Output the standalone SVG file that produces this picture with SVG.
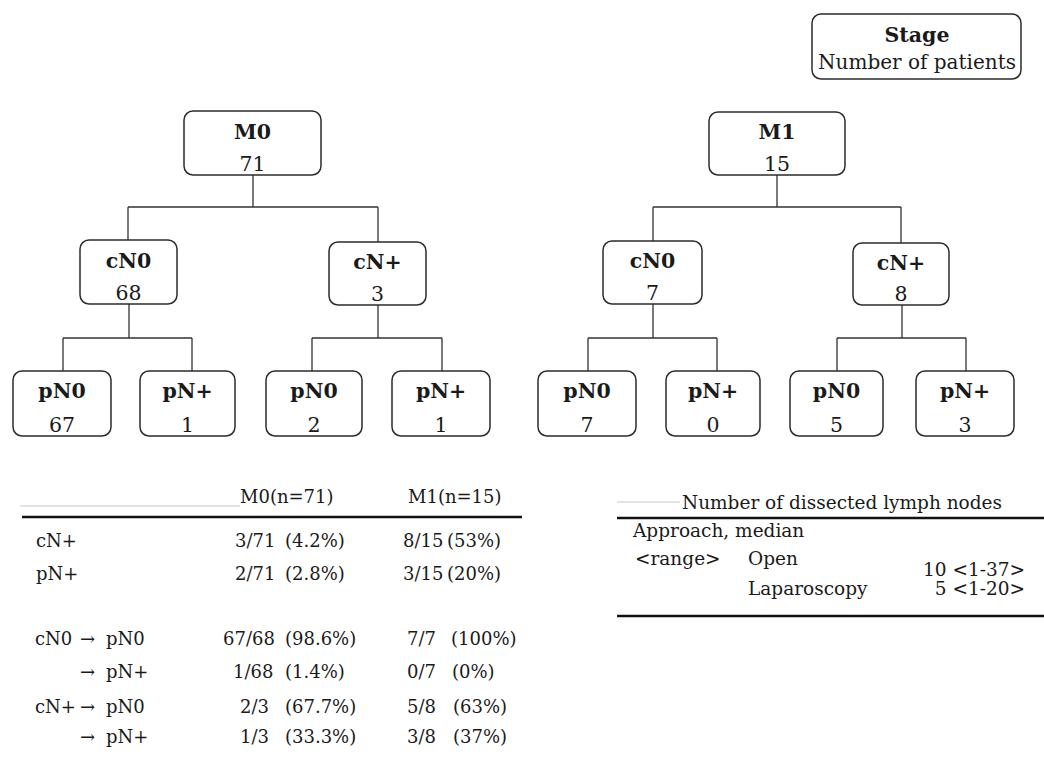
<svg xmlns="http://www.w3.org/2000/svg" width="1044" height="760" viewBox="0 0 1044 760">
<style>
text{font-family:"DejaVu Serif","Liberation Serif",serif;fill:#1a1a1a}
.box{fill:#fff;stroke:#2b2b2b;stroke-width:1.5}
.lbl{font-size:20.5px;font-weight:bold;text-anchor:middle}
.num{font-size:20.5px;text-anchor:middle}
.con{fill:none;stroke:#333;stroke-width:1.3}
.t{font-size:18px}
.r{font-size:18.5px}
.thick{stroke:#111;stroke-width:2.6}
.thin{stroke:#c8c8c8;stroke-width:1}
</style>
<rect width="1044" height="760" fill="#fff"/>

<g id="legend">
<rect class="box" x="812" y="14" width="209" height="65" rx="9"/>
<text class="lbl" x="917" y="42">Stage</text>
<text class="num" x="917" y="69" style="font-size:20px">Number of patients</text>
</g>

<g id="connectors">
<path class="con" d="M253 175V207M128 207H378M128 207V240M378 207V242"/>
<path class="con" d="M129 304V338M63 338H192M63 338V371M192 338V371"/>
<path class="con" d="M378 305V338M312 338H442M312 338V371M442 338V371"/>
<path class="con" d="M777 175V207M653 207H901M653 207V241M901 207V243"/>
<path class="con" d="M653 304V338M588 338H717M588 338V371M717 338V371"/>
<path class="con" d="M902 305V338M837 338H966M837 338V371M966 338V371"/>
</g>

<g id="m0">
<rect class="box" x="184" y="111" width="137" height="64" rx="9"/>
<text class="lbl" x="252.5" y="139">M0</text>
<text class="num" x="252.5" y="171">71</text>
</g>
<g id="m0-cn0">
<rect class="box" x="80" y="240" width="97" height="64" rx="9"/>
<text class="lbl" x="128.5" y="268">cN0</text>
<text class="num" x="128.5" y="300">68</text>
</g>
<g id="m0-cnp">
<rect class="box" x="329" y="242" width="97" height="63" rx="9"/>
<text class="lbl" x="377.5" y="269">cN+</text>
<text class="num" x="377.5" y="301">3</text>
</g>
<g id="m0-cn0-pn0">
<rect class="box" x="13" y="371" width="98" height="65" rx="9"/>
<text class="lbl" x="62" y="398">pN0</text>
<text class="num" x="62" y="432">67</text>
</g>
<g id="m0-cn0-pnp">
<rect class="box" x="140" y="371" width="95" height="65" rx="9"/>
<text class="lbl" x="187.5" y="398">pN+</text>
<text class="num" x="187.5" y="432">1</text>
</g>
<g id="m0-cnp-pn0">
<rect class="box" x="266" y="371" width="96" height="65" rx="9"/>
<text class="lbl" x="314" y="398">pN0</text>
<text class="num" x="314" y="432">2</text>
</g>
<g id="m0-cnp-pnp">
<rect class="box" x="392" y="371" width="98" height="65" rx="9"/>
<text class="lbl" x="441" y="398">pN+</text>
<text class="num" x="441" y="432">1</text>
</g>

<g id="m1">
<rect class="box" x="709" y="112" width="136" height="63" rx="9"/>
<text class="lbl" x="777" y="139">M1</text>
<text class="num" x="777" y="171">15</text>
</g>
<g id="m1-cn0">
<rect class="box" x="603" y="241" width="99" height="63" rx="9"/>
<text class="lbl" x="652.5" y="268">cN0</text>
<text class="num" x="652.5" y="300">7</text>
</g>
<g id="m1-cnp">
<rect class="box" x="853" y="243" width="96" height="62" rx="9"/>
<text class="lbl" x="901" y="270">cN+</text>
<text class="num" x="901" y="301">8</text>
</g>
<g id="m1-cn0-pn0">
<rect class="box" x="538" y="371" width="98" height="65" rx="9"/>
<text class="lbl" x="587" y="398">pN0</text>
<text class="num" x="587" y="432">7</text>
</g>
<g id="m1-cn0-pnp">
<rect class="box" x="666" y="371" width="94" height="65" rx="9"/>
<text class="lbl" x="713" y="398">pN+</text>
<text class="num" x="713" y="432">0</text>
</g>
<g id="m1-cnp-pn0">
<rect class="box" x="790" y="371" width="93" height="65" rx="9"/>
<text class="lbl" x="836.5" y="398">pN0</text>
<text class="num" x="836.5" y="432">5</text>
</g>
<g id="m1-cnp-pnp">
<rect class="box" x="916" y="371" width="98" height="65" rx="9"/>
<text class="lbl" x="965" y="398">pN+</text>
<text class="num" x="965" y="432">3</text>
</g>

<g id="table-left" class="t">
<line class="thin" x1="20" y1="506" x2="240" y2="506"/>
<line class="thick" x1="22" y1="517" x2="522" y2="517"/>
<text x="240" y="503">M0(n=71)</text>
<text x="408" y="503">M1(n=15)</text>
<text x="36" y="547">cN+</text><text x="235" y="547">3/71</text><text x="285" y="547">(4.2%)</text><text x="403" y="547">8/15</text><text x="447" y="547">(53%)</text>
<text x="36" y="580">pN+</text><text x="235" y="580">2/71</text><text x="285" y="580">(2.8%)</text><text x="403" y="580">3/15</text><text x="447" y="580">(20%)</text>
<text x="35" y="645">cN0</text><text x="80" y="645">→</text><text x="106" y="645">pN0</text><text x="223" y="645">67/68</text><text x="285" y="645">(98.6%)</text><text x="407" y="645">7/7</text><text x="451" y="645">(100%)</text>
<text x="80" y="678">→</text><text x="106" y="678">pN+</text><text x="233" y="678">1/68</text><text x="285" y="678">(1.4%)</text><text x="407" y="678">0/7</text><text x="452" y="678">(0%)</text>
<text x="35" y="713">cN+</text><text x="80" y="713">→</text><text x="106" y="713">pN0</text><text x="240" y="713">2/3</text><text x="285" y="713">(67.7%)</text><text x="407" y="713">5/8</text><text x="453" y="713">(63%)</text>
<text x="80" y="743">→</text><text x="106" y="743">pN+</text><text x="240" y="743">1/3</text><text x="285" y="743">(33.3%)</text><text x="407" y="743">3/8</text><text x="453" y="743">(37%)</text>
</g>

<g id="table-right" class="r">
<line class="thin" x1="617" y1="502" x2="680" y2="502"/>
<text x="842" y="509" text-anchor="middle">Number of dissected lymph nodes</text>
<line class="thick" x1="617" y1="518" x2="1044" y2="518"/>
<text x="633" y="537">Approach, median</text>
<text x="635" y="565">&lt;range&gt;</text>
<text x="748" y="565">Open</text>
<text x="1025" y="576" text-anchor="end">10 &lt;1-37&gt;</text>
<text x="748" y="595">Laparoscopy</text>
<text x="1025" y="595" text-anchor="end">5 &lt;1-20&gt;</text>
<line class="thick" x1="617" y1="616" x2="1044" y2="616"/>
</g>
</svg>
